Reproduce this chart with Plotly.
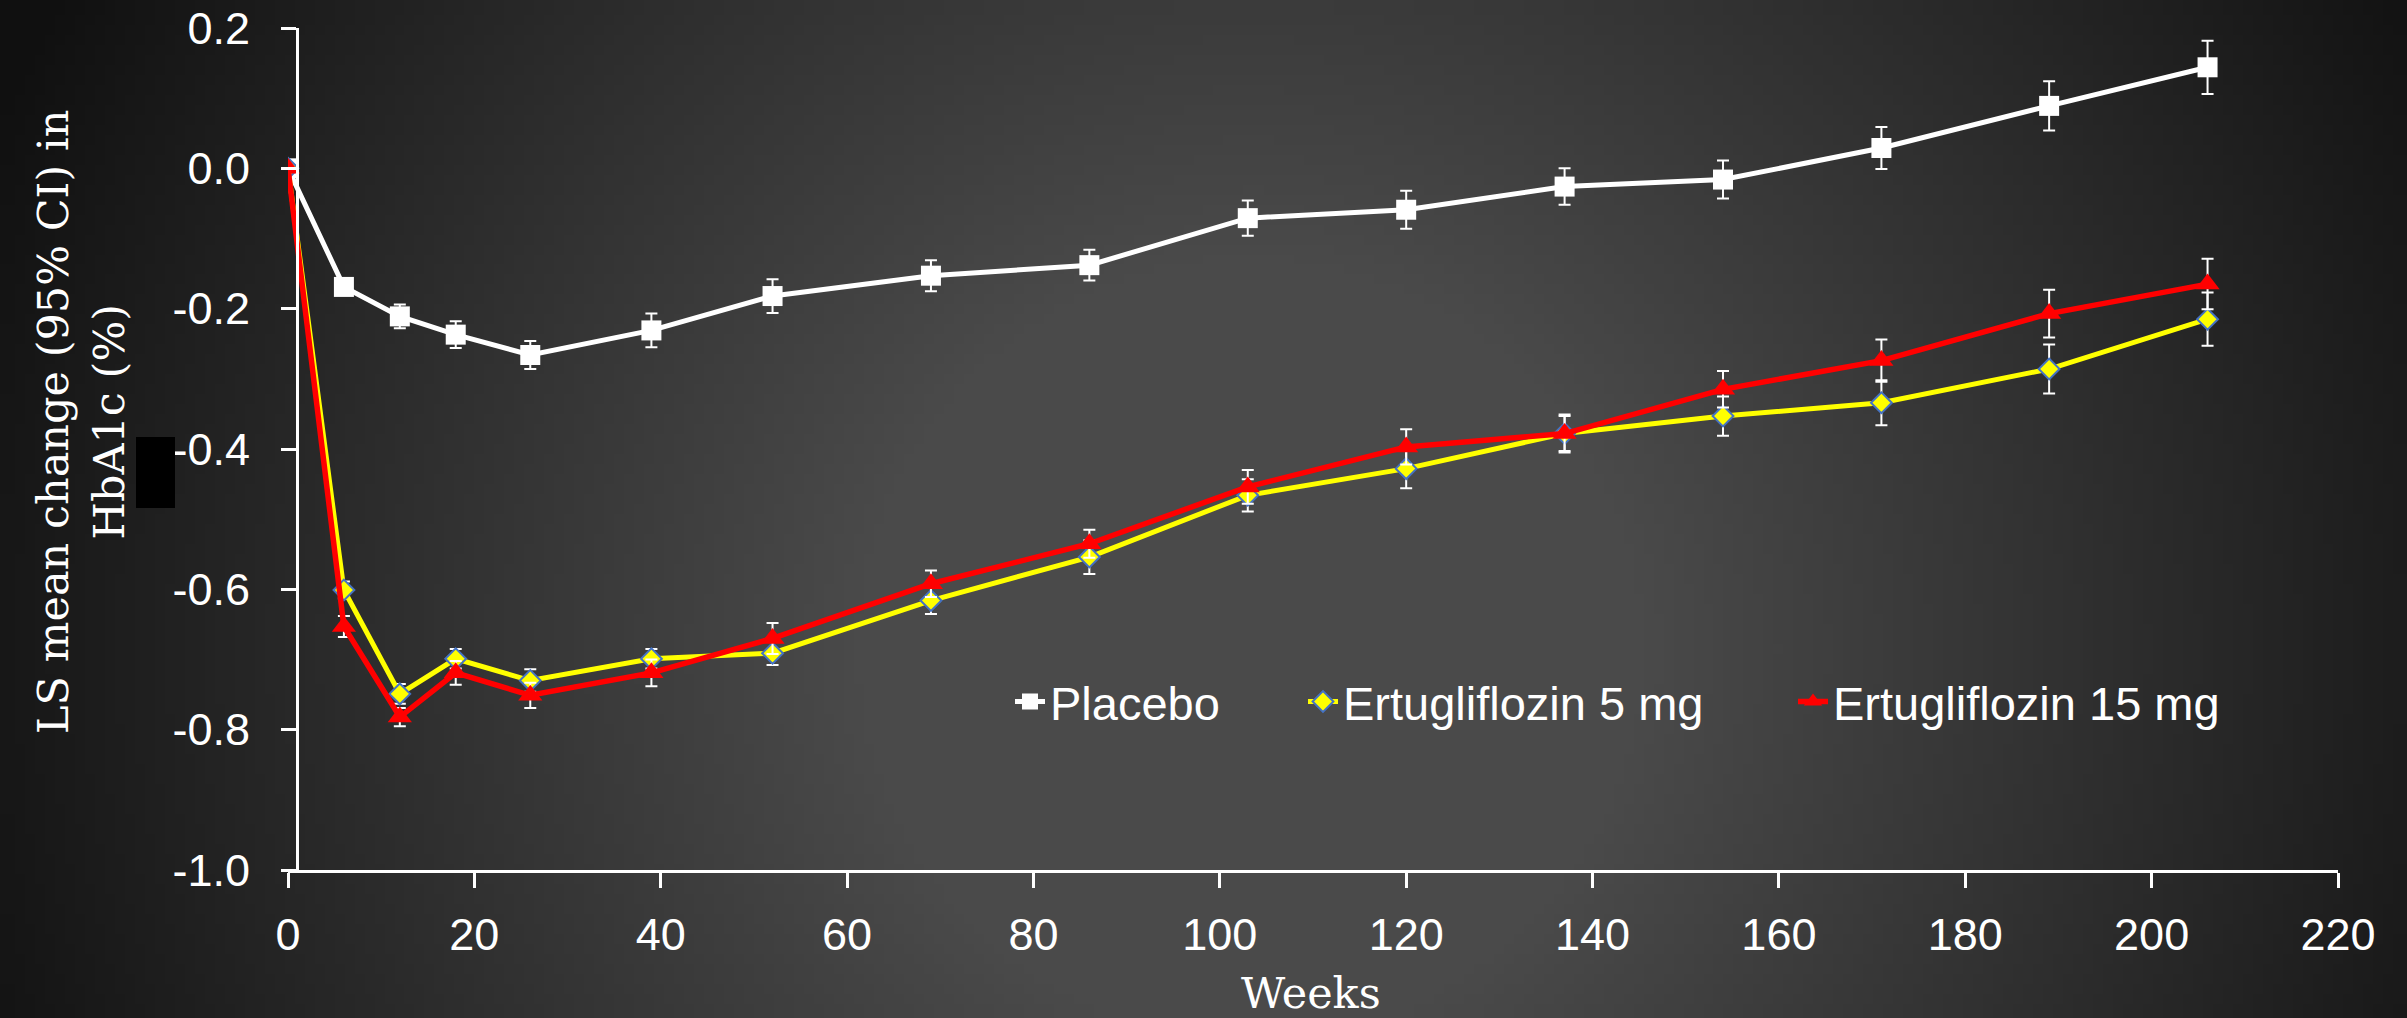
import base64
import math
import struct
import zlib

import plotly.graph_objects as go


# -------------------------------
# Data
# -------------------------------
weeks = [0, 6, 12, 18, 26, 39, 52, 69, 86, 103, 120, 137, 154, 171, 189, 206]

placebo = [0, -0.169, -0.211, -0.237, -0.266, -0.231, -0.182, -0.153, -0.138,
           -0.071, -0.059, -0.026, -0.016, 0.029, 0.089, 0.144]
placebo_ci = [0, 0.010, 0.017, 0.019, 0.020, 0.024, 0.024, 0.022, 0.022,
              0.025, 0.027, 0.026, 0.027, 0.030, 0.035, 0.038]

ertu5 = [0, -0.601, -0.749, -0.699, -0.730, -0.699, -0.691, -0.616, -0.554,
         -0.466, -0.428, -0.378, -0.353, -0.334, -0.286, -0.215]
ertu5_ci = [0, 0.012, 0.014, 0.014, 0.016, 0.014, 0.017, 0.019, 0.024,
            0.023, 0.028, 0.027, 0.028, 0.032, 0.035, 0.038]

ertu15 = [0, -0.653, -0.782, -0.719, -0.751, -0.719, -0.670, -0.592, -0.535,
          -0.454, -0.397, -0.378, -0.315, -0.274, -0.207, -0.165]
ertu15_ci = [0, 0.015, 0.013, 0.017, 0.018, 0.019, 0.022, 0.019, 0.020,
             0.024, 0.025, 0.025, 0.026, 0.030, 0.034, 0.036]

x_ticks = [0, 20, 40, 60, 80, 100, 120, 140, 160, 180, 200, 220]
x_ticktext = ["0", "20", "40", "60", "80", "100", "120", "140", "160", "180", "200", "220"]
y_ticks = [-1.0, -0.8, -0.6, -0.4, -0.2, 0.0, 0.2]
y_ticktext = ["-1.0", "-0.8", "-0.6", "-0.4", "-0.2", "0.0", "0.2"]

# -------------------------------
# Canvas / plot area in pixels
# -------------------------------
W, H = 2407, 1018
ML, MR, MT, MB = 288, 69, 28, 148
PW, PH = W - ML - MR, H - MT - MB


def px_x(x):
    return (x - ML) / PW


def px_y(y):
    return (H - MB - y) / PH


def gradient_png(w=241, h=102):
    # dark radial background, lighter in the middle
    cx, cy, R = 1250, 650, 1300
    rows = []
    for j in range(h):
        row = bytearray([0])
        for i in range(w):
            x = (i + 0.5) / w * W
            y = (j + 0.5) / h * H
            d = math.hypot(x - cx, y - cy) / R
            f = min(max((d - 0.3) / 0.75, 0), 1)
            row.append(int(round(74 - f * 58)))
        rows.append(bytes(row))
    raw = b"".join(rows)

    def chunk(tag, data):
        return (struct.pack(">I", len(data)) + tag + data
                + struct.pack(">I", zlib.crc32(tag + data) & 0xffffffff))

    png = (b"\x89PNG\r\n\x1a\n"
           + chunk(b"IHDR", struct.pack(">IIBBBBB", w, h, 8, 0, 0, 0, 0))
           + chunk(b"IDAT", zlib.compress(raw, 9))
           + chunk(b"IEND", b""))
    return "data:image/png;base64," + base64.b64encode(png).decode()


sans = "Liberation Sans, Arial, sans-serif"
serif = "DejaVu Serif, Rockwell, serif"

fig = go.Figure()
fig.add_trace(go.Scatter(
    x=weeks, y=placebo, name="Placebo", mode="lines+markers", legend="legend",
    line=dict(color="white", width=5),
    marker=dict(symbol="square", size=20, color="white"),
    error_y=dict(type="data", array=placebo_ci, color="white", thickness=2, width=6),
))
fig.add_trace(go.Scatter(
    x=weeks, y=ertu5, name="Ertugliflozin 5 mg", mode="lines+markers", legend="legend2",
    line=dict(color="#ffff00", width=5),
    marker=dict(symbol="diamond", size=16, color="#ffff00", line=dict(color="#4472c4", width=2)),
    error_y=dict(type="data", array=ertu5_ci, color="white", thickness=2, width=6),
))
fig.add_trace(go.Scatter(
    x=weeks, y=ertu15, name="Ertugliflozin 15 mg", mode="lines+markers", legend="legend3",
    line=dict(color="#ff0000", width=5.5),
    marker=dict(symbol="triangle-up", size=21, color="#ff0000"),
    error_y=dict(type="data", array=ertu15_ci, color="white", thickness=2, width=6),
))

legend_style = dict(orientation="h", font=dict(family=sans, size=47, color="white"),
                    bgcolor="rgba(0,0,0,0)", yanchor="middle", xanchor="left", y=px_y(702))

fig.update_layout(
    width=W, height=H,
    margin=dict(l=ML, r=MR, t=MT, b=MB, autoexpand=False),
    paper_bgcolor="#141414",
    plot_bgcolor="rgba(0,0,0,0)",
    showlegend=True,
    legend=dict(legend_style, x=px_x(1010)),
    legend2=dict(legend_style, x=px_x(1303)),
    legend3=dict(legend_style, x=px_x(1793)),
    xaxis=dict(
        range=[0, 220], tickvals=x_ticks, ticktext=x_ticktext,
        showline=True, linecolor="white", linewidth=3,
        ticks="outside", ticklen=15, tickwidth=3, tickcolor="white",
        ticklabelstandoff=8,
        tickfont=dict(family=sans, size=45, color="white"),
        showgrid=False, zeroline=False,
    ),
    yaxis=dict(
        range=[-1.0, 0.2], tickvals=y_ticks, ticktext=y_ticktext,
        anchor="free", position=(297 - ML) / PW,
        showline=True, linecolor="white", linewidth=3,
        ticks="outside", ticklen=15, tickwidth=3, tickcolor="white",
        ticklabelstandoff=22,
        tickfont=dict(family=sans, size=45, color="white"),
        showgrid=False, zeroline=False,
    ),
    images=[dict(
        source=gradient_png(), xref="paper", yref="paper",
        x=px_x(0), y=px_y(0), sizex=W / PW, sizey=H / PH,
        xanchor="left", yanchor="top", sizing="stretch", layer="below",
    )],
    annotations=[
        dict(text="LS mean change (95% CI) in<br>HbA1c (%)", textangle=-90,
             xref="paper", yref="paper", x=px_x(81), y=px_y(422),
             xanchor="center", yanchor="middle", showarrow=False, align="center",
             font=dict(family=serif, size=43, color="white")),
        dict(text="Weeks", xref="paper", yref="paper", x=px_x(1311), y=px_y(966),
             xanchor="center", yanchor="top", showarrow=False,
             font=dict(family=serif, size=43, color="white")),
    ],
    shapes=[dict(type="rect", xref="paper", yref="paper",
                 x0=px_x(136), x1=px_x(175), y0=px_y(508), y1=px_y(437),
                 fillcolor="black", line=dict(width=0), layer="above")],
)

fig.write_html("out.html", config={"displayModeBar": False},
               post_script="document.body.style.margin = '0';")
